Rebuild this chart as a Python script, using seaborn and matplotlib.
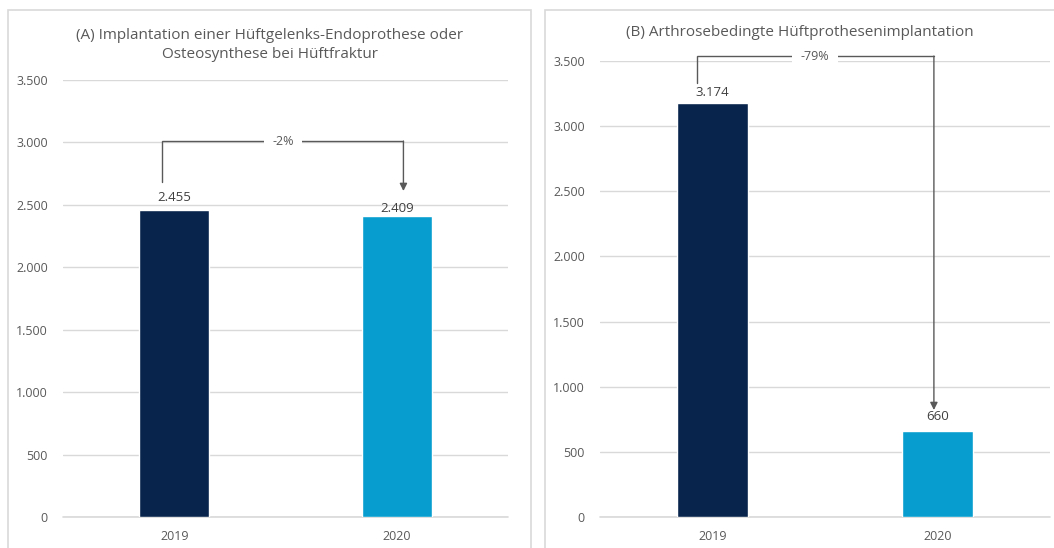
import numpy as np
import pandas as pd
import seaborn as sns
import matplotlib.pyplot as plt
from matplotlib.patches import Rectangle
from matplotlib.ticker import FuncFormatter

# Data
years = ["2019", "2020"]
hip_fracture = [2455, 2409]
arthrosis = [3174, 660]
change_labels = ["-2%", "-79%"]
titles = [
    "(A) Implantation einer Hüftgelenks-Endoprothese oder\nOsteosynthese bei Hüftfraktur",
    "(B) Arthrosebedingte Hüftprothesenimplantation",
]

colors = ["#08234C", "#079ECF"]
text_gray = "#595959"
grid_gray = "#D9D9D9"

sns.set_style("white")
plt.rcParams["font.family"] = ["Open Sans", "DejaVu Sans"]

W, H = 1054, 548
fig = plt.figure(figsize=(W / 100, H / 100), dpi=100)

# panel frames (pixel coords -> figure fraction)
for x0, x1 in [(8, 531), (545, 1060)]:
    fig.add_artist(Rectangle((x0 / W, -0.05), (x1 - x0) / W, 1.05 - 10 / H,
                             transform=fig.transFigure, fill=False,
                             edgecolor=grid_gray, lw=1.2))

ax_a = fig.add_axes([63 / W, 1 - 517 / H, 445 / W, 437 / H])
ax_b = fig.add_axes([600 / W, 1 - 517 / H, 450 / W, 456 / H])

thousands = FuncFormatter(lambda v, p: f"{int(v):,}".replace(",", "."))


def draw_panel(ax, values):
    df = pd.DataFrame({"Jahr": years, "Anzahl": values})
    sns.barplot(data=df, x="Jahr", y="Anzahl", hue="Jahr", palette=colors,
                width=0.315, legend=False, ax=ax, saturation=1)
    ax.set_xlim(-0.5, 1.5)
    ax.set_ylim(0, 3500)
    ax.set_yticks(np.arange(0, 3501, 500))
    ax.yaxis.set_major_formatter(thousands)
    ax.grid(axis="y", color=grid_gray, lw=1)
    ax.axhline(0, color=grid_gray, lw=1.2, clip_on=False, zorder=0.5)
    ax.set_axisbelow(True)
    sns.despine(ax=ax, left=True, top=True, right=True, bottom=True)
    ax.tick_params(axis="both", length=0, labelsize=9, colors=text_gray)
    ax.tick_params(axis="x", pad=9)
    ax.tick_params(axis="y", pad=11)
    ax.set_xlabel("")
    ax.set_ylabel("")


def connector(ax, x_left, y_left, x_right, y_top, y_tip, label, x_label):
    ax.plot([x_left, x_left, x_right], [y_left, y_top, y_top],
            color=text_gray, lw=1, solid_joinstyle="miter", zorder=3,
            clip_on=False)
    ax.annotate("", xy=(x_right, y_tip), xytext=(x_right, y_top),
                arrowprops=dict(arrowstyle="-|>", color=text_gray, lw=1,
                                mutation_scale=11, shrinkA=0, shrinkB=0),
                zorder=3, annotation_clip=False)
    ax.text(x_label, y_top, label, ha="center", va="center", fontsize=9,
            color=text_gray, zorder=4, clip_on=False,
            bbox=dict(facecolor="white", edgecolor="none", pad=6))


# Panel A
draw_panel(ax_a, hip_fracture)
ax_a.text(0, hip_fracture[0] + 100, "2.455", ha="center", va="center",
          fontsize=9.5, color="#404040")
ax_a.text(1, hip_fracture[1] + 60, "2.409", ha="center", va="center",
          fontsize=9.5, color="#404040")
connector(ax_a, -0.056, 2683, 1.03, 3011, 2611, change_labels[0], 0.49)

# Panel B
draw_panel(ax_b, arthrosis)
ax_b.text(0, arthrosis[0] + 85, "3.174", ha="center", va="center",
          fontsize=9.5, color="#404040")
ax_b.text(1, arthrosis[1] + 115, "660", ha="center", va="center",
          fontsize=9.5, color="#404040")
connector(ax_b, -0.069, 3330, 0.984, 3538, 821, change_labels[1], 0.456)

# Titles
fig.text(270 / W, 1 - 45 / H, titles[0], ha="center", va="center",
         fontsize=11, color=text_gray, linespacing=1.45)
fig.text(800 / W, 1 - 32 / H, titles[1], ha="center", va="center",
         fontsize=11, color=text_gray)

plt.savefig("out.png", dpi=100)
